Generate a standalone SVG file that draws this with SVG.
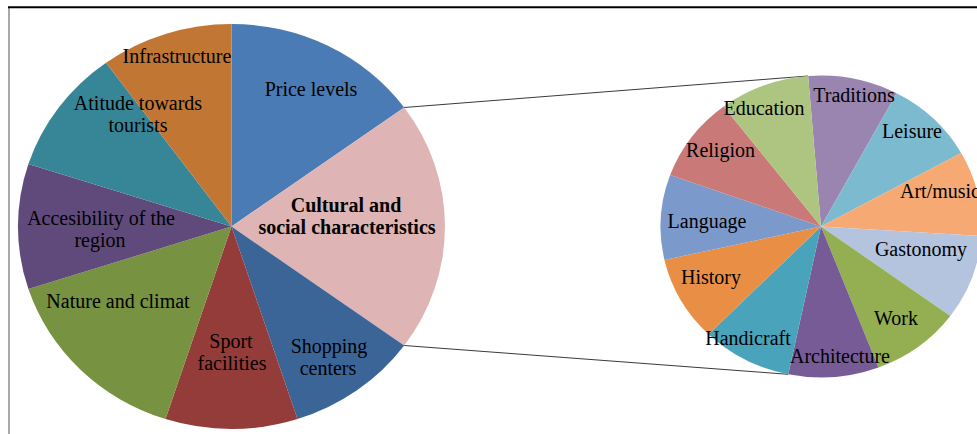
<svg xmlns="http://www.w3.org/2000/svg" width="977" height="434" viewBox="0 0 977 434">
<style>
text{font-family:"Liberation Serif","Times New Roman",serif;font-size:20px;fill:#000;text-anchor:middle}
.b{font-weight:bold}
.st{text-anchor:start}
.conn{stroke:#3a3a3a;stroke-width:1;fill:none}
</style>
<rect width="977" height="434" fill="#fff"/>
<g id="frame">
<line x1="9" y1="7" x2="9" y2="434" stroke="#8c8c8c" stroke-width="1.5"/>
<line x1="8" y1="7.3" x2="977" y2="7.3" stroke="#000" stroke-width="2"/>
</g>
<g id="big-pie">
<g id="price-levels"><path d="M231.5 226.5 L231.5 24 A213.5 202.5 0 0 1 404.2 107.5 Z" fill="#4a7bb4"/></g>
<g id="cultural"><path d="M231.5 226.5 L404.2 107.5 A213.5 202.5 0 0 1 404.2 345.5 Z" fill="#deb5b4"/></g>
<g id="shopping"><path d="M231.5 226.5 L404.2 345.5 A213.5 202.5 0 0 1 297.5 419.1 Z" fill="#3b6597"/></g>
<g id="sport"><path d="M231.5 226.5 L297.5 419.1 A213.5 202.5 0 0 1 165.5 419.1 Z" fill="#943c3a"/></g>
<g id="nature"><path d="M231.5 226.5 L165.5 419.1 A213.5 202.5 0 0 1 28.4 289.1 Z" fill="#779240"/></g>
<g id="accesibility"><path d="M231.5 226.5 L28.4 289.1 A213.5 202.5 0 0 1 28.4 163.9 Z" fill="#604a7b"/></g>
<g id="atitude"><path d="M231.5 226.5 L28.4 163.9 A213.5 202.5 0 0 1 106 62.7 Z" fill="#378698"/></g>
<g id="infrastructure"><path d="M231.5 226.5 L106 62.7 A213.5 202.5 0 0 1 231.5 24 Z" fill="#c17634"/></g>
</g>
<g id="connectors">
<line class="conn" x1="404.2" y1="107.5" x2="808.1" y2="76"/>
<line class="conn" x1="404.2" y1="345.5" x2="788.3" y2="374.3"/>
</g>
<g id="small-pie">
<g id="traditions"><path d="M821 226.5 L808.13 75.99 A160.5 151 0 0 1 896.68 93.34 Z" fill="#9a85b1"/></g>
<g id="leisure"><path d="M821 226.5 L896.68 93.34 A160.5 151 0 0 1 961.18 152.96 Z" fill="#7cbbcf"/></g>
<g id="art-music"><path d="M821 226.5 L961.18 152.96 A160.5 151 0 0 1 981.19 235.93 Z" fill="#f7a973"/></g>
<g id="gastonomy"><path d="M821 226.5 L981.19 235.93 A160.5 151 0 0 1 950.33 315.93 Z" fill="#b4c4df"/></g>
<g id="work"><path d="M821 226.5 L950.33 315.93 A160.5 151 0 0 1 878.42 367.51 Z" fill="#93af52"/></g>
<g id="architecture"><path d="M821 226.5 L878.42 367.51 A160.5 151 0 0 1 788.28 374.33 Z" fill="#775b97"/></g>
<g id="handicraft"><path d="M821 226.5 L788.28 374.33 A160.5 151 0 0 1 708.52 334.22 Z" fill="#49a3bb"/></g>
<g id="history"><path d="M821 226.5 L708.52 334.22 A160.5 151 0 0 1 664.48 259.91 Z" fill="#e88f45"/></g>
<g id="language"><path d="M821 226.5 L664.48 259.91 A160.5 151 0 0 1 670.13 174.99 Z" fill="#7b9acb"/></g>
<g id="religion"><path d="M821 226.5 L670.13 174.99 A160.5 151 0 0 1 723.68 106.42 Z" fill="#c97a78"/></g>
<g id="education"><path d="M821 226.5 L723.68 106.42 A160.5 151 0 0 1 808.13 75.99 Z" fill="#aec582"/></g>
</g>
<g id="labels">
<g id="price-levels-label"><text x="311" y="96">Price levels</text></g>
<g id="cultural-label"><text class="b" x="346" y="212">Cultural and</text><text class="b" x="347" y="234">social characteristics</text></g>
<g id="shopping-label"><text x="329" y="353">Shopping</text><text x="328" y="375">centers</text></g>
<g id="sport-label"><text x="231" y="348">Sport</text><text x="232" y="370">facilities</text></g>
<g id="nature-label"><text x="118" y="308">Nature and climat</text></g>
<g id="accesibility-label"><text x="101" y="225">Accesibility of the</text><text x="100" y="247">region</text></g>
<g id="atitude-label"><text x="138" y="110">Atitude towards</text><text x="138" y="132">tourists</text></g>
<g id="infrastructure-label"><text x="177" y="63">Infrastructure</text></g>
<g id="traditions-label"><text x="854" y="102">Traditions</text></g>
<g id="leisure-label"><text x="912" y="138">Leisure</text></g>
<g id="art-music-label"><text class="st" x="900" y="198">Art/music</text></g>
<g id="gastonomy-label"><text x="921" y="256">Gastonomy</text></g>
<g id="work-label"><text x="896" y="325">Work</text></g>
<g id="architecture-label"><text x="840" y="363">Architecture</text></g>
<g id="handicraft-label"><text x="748" y="345">Handicraft</text></g>
<g id="history-label"><text x="711" y="284">History</text></g>
<g id="language-label"><text x="707" y="228">Language</text></g>
<g id="religion-label"><text x="720.5" y="157">Religion</text></g>
<g id="education-label"><text x="764" y="115">Education</text></g>
</g>
</svg>
